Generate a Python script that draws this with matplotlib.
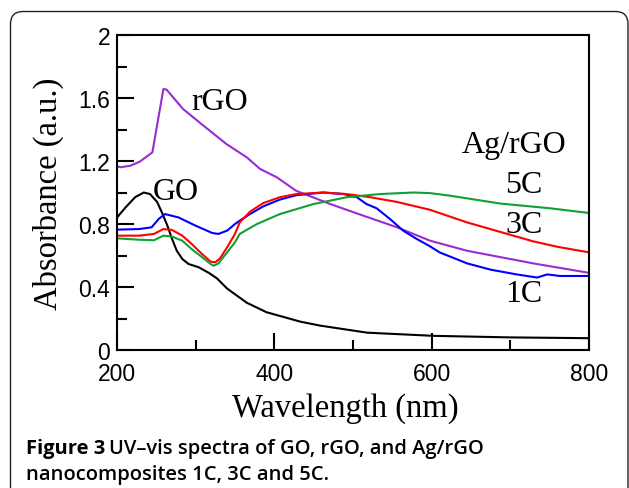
import matplotlib
matplotlib.use("Agg")
import matplotlib.pyplot as plt
from matplotlib.patches import FancyBboxPatch
from matplotlib.ticker import MultipleLocator

# ── Spectra (wavelength in nm, absorbance in a.u.) ───────────────────────────
wl_go  = [200, 202, 211, 223, 234, 242, 251, 257, 264, 270, 276, 283, 291,
          304, 317, 327, 340, 365, 390, 433, 458, 518, 602, 700, 800]
abs_go = [0.84, 0.853, 0.906, 0.97, 1.00, 0.99, 0.94, 0.874, 0.79, 0.705,
          0.63, 0.578, 0.546, 0.525, 0.489, 0.455, 0.39, 0.30, 0.24, 0.18,
          0.155, 0.11, 0.09, 0.08, 0.075]

wl_rgo  = [200, 204, 217, 229, 245, 250, 259, 263, 284, 310, 339, 365, 382,
           403, 428, 471, 513, 556, 598, 645, 729, 800]
abs_rgo = [1.17, 1.16, 1.17, 1.196, 1.255, 1.40, 1.657, 1.653, 1.53, 1.424,
           1.308, 1.223, 1.149, 1.097, 1.01, 0.927, 0.853, 0.779, 0.694,
           0.63, 0.55, 0.49]

wl_1c  = [200, 228, 244, 253, 261, 278, 300, 321, 329, 340, 350, 356, 369,
          386, 407, 428, 462, 488, 505, 517, 530, 547, 564, 581, 598, 610,
          645, 675, 708, 734, 747, 763, 800]
abs_1c = [0.764, 0.768, 0.779, 0.832, 0.863, 0.842, 0.789, 0.743, 0.737,
          0.758, 0.80, 0.821, 0.863, 0.912, 0.955, 0.983, 1.00, 0.99, 0.97,
          0.927, 0.90, 0.832, 0.757, 0.705, 0.658, 0.62, 0.55, 0.51, 0.48,
          0.46, 0.48, 0.47, 0.47]

wl_3c  = [200, 228, 247, 259, 270, 283, 295, 308, 319, 325, 331, 340, 350,
          356, 369, 386, 407, 428, 462, 492, 522, 556, 598, 645, 687, 729,
          760, 800]
abs_3c = [0.726, 0.726, 0.737, 0.768, 0.762, 0.726, 0.673, 0.61, 0.561,
          0.557, 0.582, 0.652, 0.737, 0.81, 0.878, 0.933, 0.97, 0.99, 1.00,
          0.99, 0.97, 0.94, 0.89, 0.81, 0.75, 0.69, 0.655, 0.62]

wl_5c  = [200, 228, 247, 259, 270, 283, 295, 308, 319, 323, 329, 340, 350,
          356, 378, 407, 450, 492, 534, 577, 598, 623, 655, 687, 750, 800]
abs_5c = [0.709, 0.70, 0.697, 0.726, 0.72, 0.694, 0.64, 0.59, 0.546, 0.535,
          0.55, 0.62, 0.684, 0.737, 0.80, 0.863, 0.927, 0.97, 0.99, 1.00,
          0.996, 0.98, 0.955, 0.93, 0.90, 0.87]

series = [
    (wl_go,  abs_go,  "black"),
    (wl_rgo, abs_rgo, "#9a2bd0"),
    (wl_1c,  abs_1c,  "#0000ff"),
    (wl_3c,  abs_3c,  "#ff0000"),
    (wl_5c,  abs_5c,  "#10a035"),
]

# curve labels: text, wavelength, absorbance (baseline)
labels = [
    ("rGO",    331, 1.53),
    ("GO",     275, 0.96),
    ("Ag/rGO", 705, 1.26),
    ("5C",     717, 1.00),
    ("3C",     717, 0.75),
    ("1C",     717, 0.31),
]

SERIF = "Liberation Serif"
SANS  = "Liberation Sans"

W, H = 629, 489
fig = plt.figure(figsize=(W / 100, H / 100), dpi=100)

# frame around the figure panel
frame = FancyBboxPatch((10.5 / W, -0.05), 617.5 / W, 1.05 - 12.5 / H,
                       boxstyle="round,pad=0,rounding_size=0.02",
                       transform=fig.transFigure, fill=False,
                       edgecolor="#222222", linewidth=1.0, mutation_aspect=W / H)
fig.patches.append(frame)

ax = fig.add_axes([117 / W, 1 - 351 / H, 472 / W, 315 / H])
for x, y, c in series:
    ax.plot(x, y, color=c, lw=1.5, solid_joinstyle="round")

ax.set_xlim(200, 800)
ax.set_ylim(0, 2)
ax.xaxis.set_major_locator(MultipleLocator(200))
ax.xaxis.set_minor_locator(MultipleLocator(100))
ax.yaxis.set_major_locator(MultipleLocator(0.4))
ax.yaxis.set_minor_locator(MultipleLocator(0.2))
ax.yaxis.set_major_formatter(lambda v, p: f"{v:.1f}" if 0 < v < 2 else f"{v:.0f}")

for s in ax.spines.values():
    s.set_linewidth(1.5)
ax.tick_params(which="both", direction="in", width=1.5, top=False, right=False)
ax.tick_params(which="major", length=12.5)
ax.tick_params(which="minor", length=7.5)
ax.tick_params(axis="x", pad=9)
ax.tick_params(axis="y", pad=5)
for t in ax.get_xticklabels() + ax.get_yticklabels():
    t.set_fontfamily(SANS)
    t.set_fontsize(16.5)

ax.set_xlabel("Wavelength (nm)", family=SERIF, fontsize=23.5, labelpad=4.5)
ax.xaxis.label.set_x(0.483)
ax.set_ylabel("Absorbance (a.u.)", family=SERIF, fontsize=23.5, labelpad=10)

for txt, x, y in labels:
    ax.text(x, y, txt, family=SERIF, fontsize=23, ha="center", va="baseline")

# caption below the plot
fig.canvas.draw()
r = fig.canvas.get_renderer()
head = fig.text(26 / W, 1 - 454 / H, "Figure 3", family="Open Sans",
                weight="bold", fontsize=14.5, va="baseline")
bb = head.get_window_extent(r)
fig.text((bb.x1 + 4) / W, 1 - 454 / H, "UV\u2013vis spectra of GO, rGO, and Ag/rGO",
         family="Open Sans", weight="semibold", fontsize=14.5, va="baseline")
fig.text(26 / W, 1 - 480 / H, "nanocomposites 1C, 3C and 5C.",
         family="Open Sans", weight="semibold", fontsize=14.5, va="baseline")

fig.savefig("out.png", dpi=100)
